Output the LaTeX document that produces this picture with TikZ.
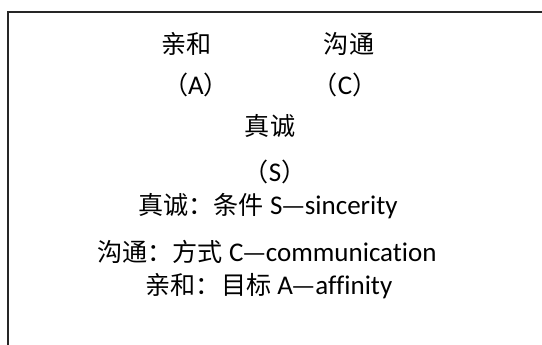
\documentclass[tikz,border=0pt]{standalone}
\usepackage{fontspec}
\setmainfont{Carlito}[Ligatures=NoCommon]
\newfontfamily\cjk{Noto Sans CJK SC}[Scale=0.93]
\usetikzlibrary{positioning}
\tikzstyle{term}=[inner sep=0pt, font=\fontsize{27}{31}\selectfont]
\tikzstyle{frameline}=[line width=1.4pt, black!85]

\begin{document}
\begin{tikzpicture}[x=1pt,y=-1pt]
    \useasboundingbox (0,0) rectangle (542,345);
    \draw[frameline] (542,12) -- (8,12) -- (8,345);

    % the three terms
    \node[term] (affName) at (187,44) {\cjk 亲和};
    \node[term] (comName) at (349,44) {\cjk 沟通};
    \node[term] (affLetter) at (196,85) {{\cjk （}A{\cjk ）}};
    \node[term] (comLetter) at (345,85) {{\cjk （}C{\cjk ）}};
    \node[term] (sinName) at (270,126) {\cjk 真诚};
    \node[term] (sinLetter) at (275,172) {{\cjk （}S{\cjk ）}};

    % legend
    \node[term] (sinText) at (268,206) {{\cjk 真诚：条件} S{\cjk —}sincerity};
    \node[term] (comText) at (267,252) {{\cjk 沟通：方式} C{\cjk —}communication};
    \node[term] (affText) at (269,286) {{\cjk 亲和：目标} A{\cjk —}affinity};

\end{tikzpicture}
\end{document}
